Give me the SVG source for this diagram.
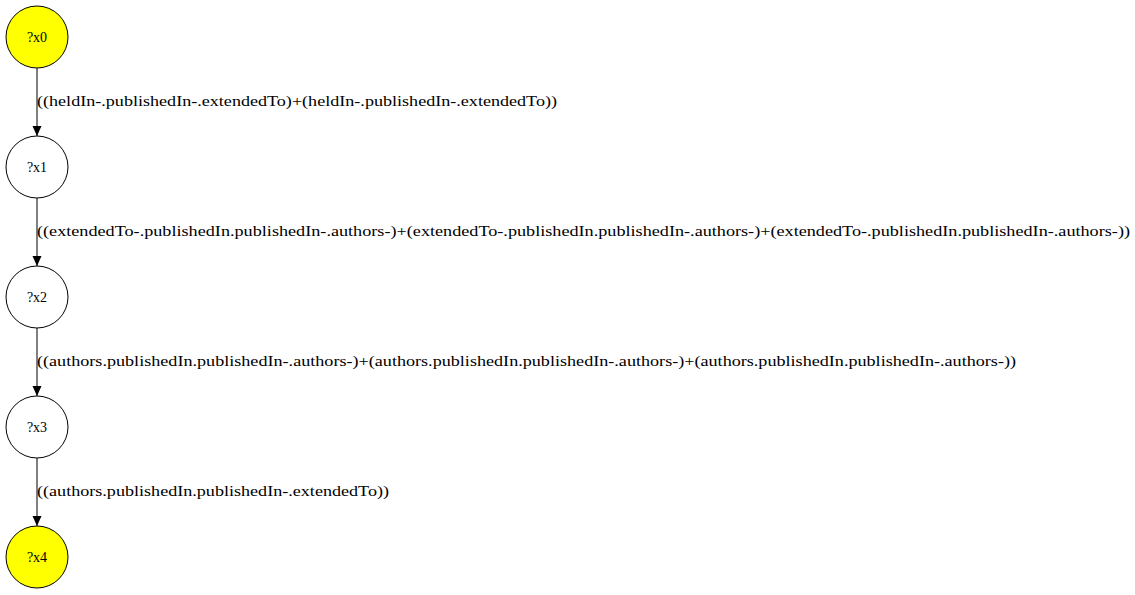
<svg xmlns="http://www.w3.org/2000/svg" width="1135" height="595" viewBox="0 0 1135 595">
<style>
.n{stroke:#000;stroke-width:1}
.t{font-family:"Liberation Serif","Times New Roman",serif;font-size:14px;fill:#000}
.e{stroke:#000;stroke-width:1;fill:none}
</style>
<defs>
<marker id="a" markerWidth="10" markerHeight="10" refX="10" refY="5" orient="auto" markerUnits="userSpaceOnUse">
<path d="M0,0.5 L10,5 L0,9.5 Z" fill="#000"/>
</marker>
</defs>
<rect width="1135" height="595" fill="#fff"/>
<g id="edges">
<line class="e" x1="37" y1="68" x2="37" y2="136" marker-end="url(#a)"/>
<line class="e" x1="37" y1="198" x2="37" y2="266" marker-end="url(#a)"/>
<line class="e" x1="37" y1="328" x2="37" y2="396" marker-end="url(#a)"/>
<line class="e" x1="37" y1="458" x2="37" y2="526" marker-end="url(#a)"/>
<text class="t" x="37" y="106" textLength="520" lengthAdjust="spacingAndGlyphs">((heldIn-.publishedIn-.extendedTo)+(heldIn-.publishedIn-.extendedTo))</text>
<text class="t" x="37" y="236" textLength="1093" lengthAdjust="spacingAndGlyphs">((extendedTo-.publishedIn.publishedIn-.authors-)+(extendedTo-.publishedIn.publishedIn-.authors-)+(extendedTo-.publishedIn.publishedIn-.authors-))</text>
<text class="t" x="37" y="366" textLength="979" lengthAdjust="spacingAndGlyphs">((authors.publishedIn.publishedIn-.authors-)+(authors.publishedIn.publishedIn-.authors-)+(authors.publishedIn.publishedIn-.authors-))</text>
<text class="t" x="37" y="496" textLength="352" lengthAdjust="spacingAndGlyphs">((authors.publishedIn.publishedIn-.extendedTo))</text>
</g>
<g id="x0"><circle class="n" cx="37" cy="37" r="31" fill="#ffff00"/><text class="t" x="37" y="42" text-anchor="middle">?x0</text></g>
<g id="x1"><circle class="n" cx="37" cy="167" r="31" fill="#fff"/><text class="t" x="37" y="172" text-anchor="middle">?x1</text></g>
<g id="x2"><circle class="n" cx="37" cy="297" r="31" fill="#fff"/><text class="t" x="37" y="302" text-anchor="middle">?x2</text></g>
<g id="x3"><circle class="n" cx="37" cy="427" r="31" fill="#fff"/><text class="t" x="37" y="432" text-anchor="middle">?x3</text></g>
<g id="x4"><circle class="n" cx="37" cy="557" r="31" fill="#ffff00"/><text class="t" x="37" y="562" text-anchor="middle">?x4</text></g>
</svg>
